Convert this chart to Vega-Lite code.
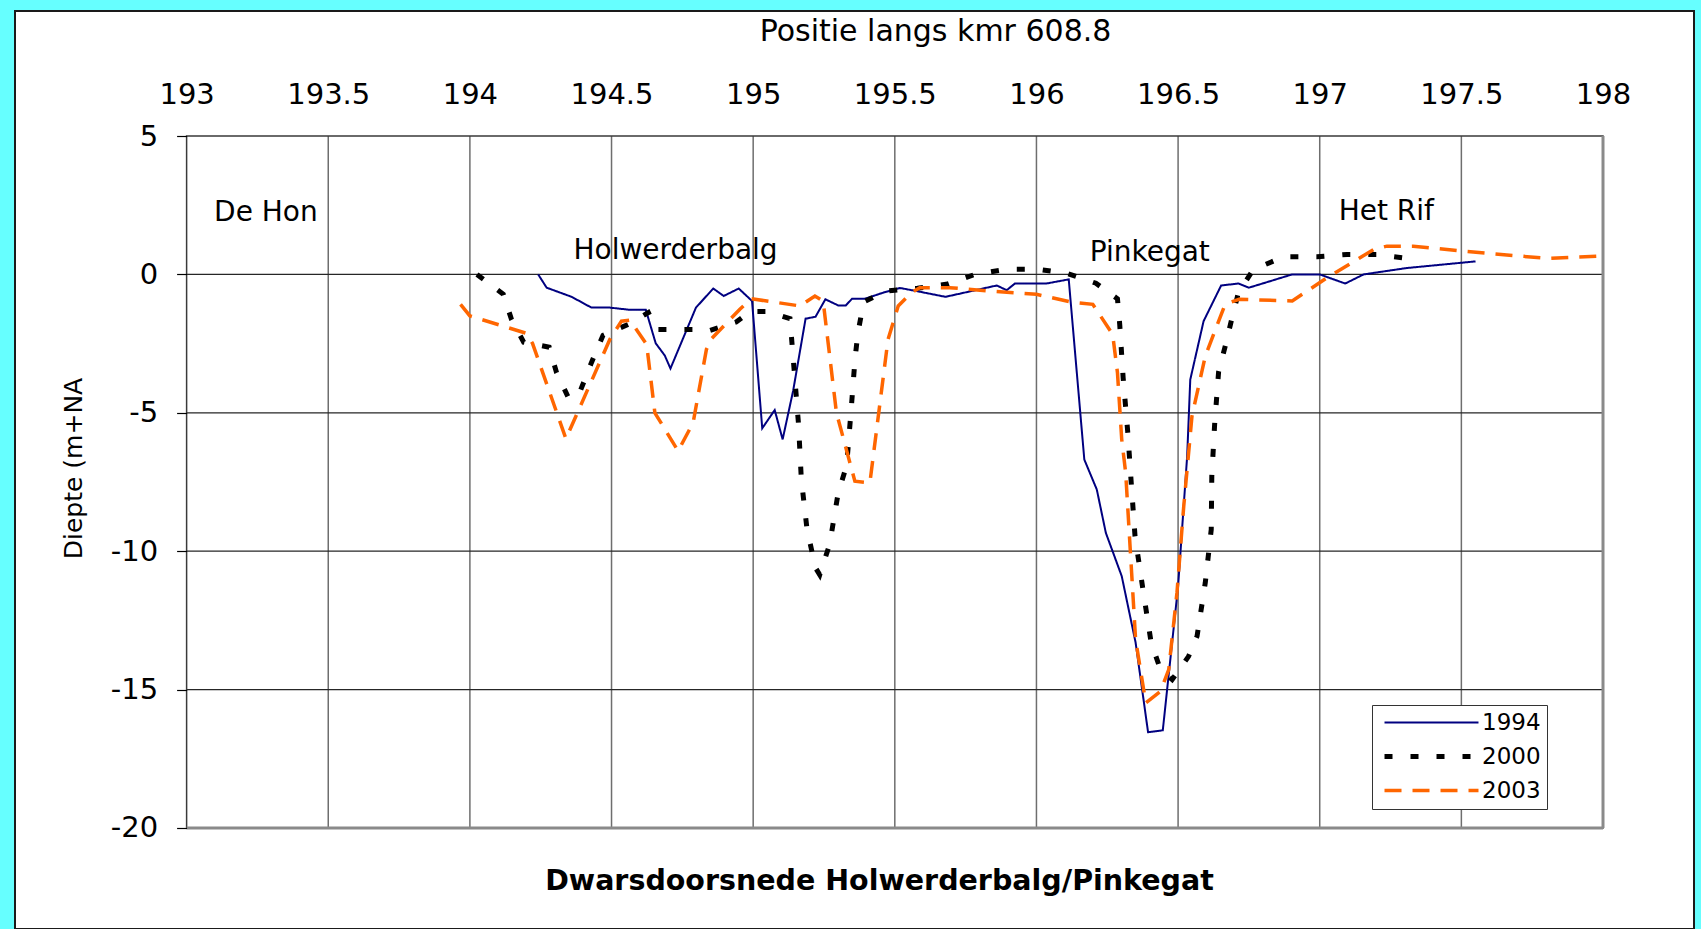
{
  "$schema": "https://vega.github.io/schema/vega-lite/v6.json",
  "width": 1679,
  "height": 918,
  "autosize": {"type": "none"},
  "padding": {"left": 15, "top": 11, "right": 7, "bottom": 0},
  "background": "#66ffff",
  "view": {"fill": "#ffffff", "stroke": "#1a1a1a", "strokeWidth": 2},
  "config": {"font": "DejaVu Sans"},
  "resolve": {"axis": {"x": "independent", "y": "independent"}},
  "title": {
    "text": "Dwarsdoorsnede Holwerderbalg/Pinkegat",
    "orient": "bottom",
    "anchor": "middle",
    "frame": "group",
    "offset": -39,
    "dx": 25,
    "baseline": "alphabetic",
    "font": "DejaVu Sans",
    "fontSize": 28.5,
    "fontWeight": "bold",
    "color": "#000000"
  },
  "datasets": {
    "vgrid": [{"gx": 193.5}, {"gx": 194}, {"gx": 194.5}, {"gx": 195}, {"gx": 195.5}, {"gx": 196}, {"gx": 196.5}, {"gx": 197}, {"gx": 197.5}],
    "hgrid": [{"gy": -15}, {"gy": -10}, {"gy": -5}, {"gy": 0}],
    "labels": [
      {"tx": 193.28, "ty": 2.23, "label": "De Hon"},
      {"tx": 194.726, "ty": 0.86, "label": "Holwerderbalg"},
      {"tx": 196.40, "ty": 0.78, "label": "Pinkegat"},
      {"tx": 197.235, "ty": 2.27, "label": "Het Rif"}
    ],
    "lines": [
      {"year": "1994", "x": 194.241, "y": 0},
      {"year": "1994", "x": 194.271, "y": -0.48},
      {"year": "1994", "x": 194.359, "y": -0.81},
      {"year": "1994", "x": 194.429, "y": -1.2},
      {"year": "1994", "x": 194.494, "y": -1.2},
      {"year": "1994", "x": 194.565, "y": -1.28},
      {"year": "1994", "x": 194.621, "y": -1.28},
      {"year": "1994", "x": 194.656, "y": -2.49},
      {"year": "1994", "x": 194.688, "y": -2.93},
      {"year": "1994", "x": 194.708, "y": -3.4},
      {"year": "1994", "x": 194.798, "y": -1.2},
      {"year": "1994", "x": 194.859, "y": -0.51},
      {"year": "1994", "x": 194.896, "y": -0.78},
      {"year": "1994", "x": 194.949, "y": -0.51},
      {"year": "1994", "x": 194.996, "y": -0.96},
      {"year": "1994", "x": 195.032, "y": -5.56},
      {"year": "1994", "x": 195.076, "y": -4.9},
      {"year": "1994", "x": 195.104, "y": -5.96},
      {"year": "1994", "x": 195.141, "y": -4.21},
      {"year": "1994", "x": 195.185, "y": -1.6},
      {"year": "1994", "x": 195.22, "y": -1.53},
      {"year": "1994", "x": 195.255, "y": -0.9},
      {"year": "1994", "x": 195.3, "y": -1.12},
      {"year": "1994", "x": 195.327, "y": -1.12},
      {"year": "1994", "x": 195.349, "y": -0.88},
      {"year": "1994", "x": 195.394, "y": -0.88},
      {"year": "1994", "x": 195.459, "y": -0.66},
      {"year": "1994", "x": 195.518, "y": -0.49},
      {"year": "1994", "x": 195.565, "y": -0.58},
      {"year": "1994", "x": 195.679, "y": -0.81},
      {"year": "1994", "x": 195.86, "y": -0.4},
      {"year": "1994", "x": 195.895, "y": -0.57},
      {"year": "1994", "x": 195.924, "y": -0.33},
      {"year": "1994", "x": 196.035, "y": -0.33},
      {"year": "1994", "x": 196.114, "y": -0.18},
      {"year": "1994", "x": 196.169, "y": -6.69},
      {"year": "1994", "x": 196.213, "y": -7.77},
      {"year": "1994", "x": 196.245, "y": -9.34},
      {"year": "1994", "x": 196.301, "y": -10.9},
      {"year": "1994", "x": 196.35, "y": -13.3},
      {"year": "1994", "x": 196.394, "y": -16.54},
      {"year": "1994", "x": 196.446, "y": -16.47},
      {"year": "1994", "x": 196.5, "y": -11.27},
      {"year": "1994", "x": 196.532, "y": -6.57},
      {"year": "1994", "x": 196.543, "y": -3.8},
      {"year": "1994", "x": 196.59, "y": -1.69},
      {"year": "1994", "x": 196.652, "y": -0.4},
      {"year": "1994", "x": 196.713, "y": -0.33},
      {"year": "1994", "x": 196.75, "y": -0.48},
      {"year": "1994", "x": 196.903, "y": 0},
      {"year": "1994", "x": 197.0, "y": 0},
      {"year": "1994", "x": 197.09, "y": -0.33},
      {"year": "1994", "x": 197.155, "y": 0},
      {"year": "1994", "x": 197.307, "y": 0.23},
      {"year": "1994", "x": 197.55, "y": 0.47},
      {"year": "2000", "x": 194.025, "y": 0},
      {"year": "2000", "x": 194.118, "y": -0.72},
      {"year": "2000", "x": 194.147, "y": -1.63},
      {"year": "2000", "x": 194.19, "y": -2.45},
      {"year": "2000", "x": 194.28, "y": -2.63},
      {"year": "2000", "x": 194.306, "y": -3.55},
      {"year": "2000", "x": 194.35, "y": -4.5},
      {"year": "2000", "x": 194.39, "y": -4.2},
      {"year": "2000", "x": 194.429, "y": -3.19},
      {"year": "2000", "x": 194.47, "y": -2.2},
      {"year": "2000", "x": 194.56, "y": -1.8},
      {"year": "2000", "x": 194.63, "y": -1.38},
      {"year": "2000", "x": 194.66, "y": -1.99},
      {"year": "2000", "x": 194.79, "y": -1.99},
      {"year": "2000", "x": 194.84, "y": -2.05},
      {"year": "2000", "x": 194.94, "y": -1.72},
      {"year": "2000", "x": 194.99, "y": -1.34},
      {"year": "2000", "x": 195.05, "y": -1.34},
      {"year": "2000", "x": 195.13, "y": -1.6},
      {"year": "2000", "x": 195.16, "y": -5.4},
      {"year": "2000", "x": 195.17, "y": -7.4},
      {"year": "2000", "x": 195.19, "y": -9.2},
      {"year": "2000", "x": 195.22, "y": -10.6},
      {"year": "2000", "x": 195.235, "y": -10.85},
      {"year": "2000", "x": 195.27, "y": -9.75},
      {"year": "2000", "x": 195.3, "y": -7.9},
      {"year": "2000", "x": 195.33, "y": -6.9},
      {"year": "2000", "x": 195.345, "y": -5.0},
      {"year": "2000", "x": 195.36, "y": -3.0},
      {"year": "2000", "x": 195.37, "y": -2.1},
      {"year": "2000", "x": 195.39, "y": -1.0},
      {"year": "2000", "x": 195.47, "y": -0.6},
      {"year": "2000", "x": 195.58, "y": -0.5},
      {"year": "2000", "x": 195.687, "y": -0.35},
      {"year": "2000", "x": 195.783, "y": 0},
      {"year": "2000", "x": 195.898, "y": 0.19},
      {"year": "2000", "x": 196.003, "y": 0.19},
      {"year": "2000", "x": 196.108, "y": 0.04},
      {"year": "2000", "x": 196.21, "y": -0.32},
      {"year": "2000", "x": 196.286, "y": -0.88},
      {"year": "2000", "x": 196.294, "y": -1.81},
      {"year": "2000", "x": 196.306, "y": -3.73},
      {"year": "2000", "x": 196.322, "y": -5.66},
      {"year": "2000", "x": 196.335, "y": -7.59},
      {"year": "2000", "x": 196.348, "y": -9.46},
      {"year": "2000", "x": 196.376, "y": -11.39},
      {"year": "2000", "x": 196.405, "y": -13.31},
      {"year": "2000", "x": 196.438, "y": -14.28},
      {"year": "2000", "x": 196.479, "y": -14.64},
      {"year": "2000", "x": 196.537, "y": -13.8},
      {"year": "2000", "x": 196.567, "y": -13.07},
      {"year": "2000", "x": 196.596, "y": -11.14},
      {"year": "2000", "x": 196.617, "y": -9.22},
      {"year": "2000", "x": 196.619, "y": -7.29},
      {"year": "2000", "x": 196.629, "y": -5.42},
      {"year": "2000", "x": 196.643, "y": -3.52},
      {"year": "2000", "x": 196.668, "y": -2.53},
      {"year": "2000", "x": 196.689, "y": -1.63},
      {"year": "2000", "x": 196.713, "y": -0.66},
      {"year": "2000", "x": 196.766, "y": 0.18},
      {"year": "2000", "x": 196.874, "y": 0.64},
      {"year": "2000", "x": 196.99, "y": 0.64},
      {"year": "2000", "x": 197.096, "y": 0.72},
      {"year": "2000", "x": 197.2, "y": 0.72},
      {"year": "2000", "x": 197.318, "y": 0.57},
      {"year": "2003", "x": 193.967, "y": -1.08},
      {"year": "2003", "x": 194.0, "y": -1.5},
      {"year": "2003", "x": 194.2, "y": -2.13},
      {"year": "2003", "x": 194.221, "y": -2.49},
      {"year": "2003", "x": 194.339, "y": -5.94},
      {"year": "2003", "x": 194.494, "y": -2.35},
      {"year": "2003", "x": 194.535, "y": -1.69},
      {"year": "2003", "x": 194.565, "y": -1.65},
      {"year": "2003", "x": 194.624, "y": -2.53},
      {"year": "2003", "x": 194.653, "y": -5.0},
      {"year": "2003", "x": 194.735, "y": -6.38},
      {"year": "2003", "x": 194.788, "y": -5.36},
      {"year": "2003", "x": 194.835, "y": -2.71},
      {"year": "2003", "x": 194.853, "y": -2.32},
      {"year": "2003", "x": 194.953, "y": -1.26},
      {"year": "2003", "x": 194.994, "y": -0.88},
      {"year": "2003", "x": 195.165, "y": -1.14},
      {"year": "2003", "x": 195.218, "y": -0.78},
      {"year": "2003", "x": 195.247, "y": -0.96},
      {"year": "2003", "x": 195.294, "y": -5.0},
      {"year": "2003", "x": 195.359, "y": -7.47},
      {"year": "2003", "x": 195.412, "y": -7.53},
      {"year": "2003", "x": 195.476, "y": -2.35},
      {"year": "2003", "x": 195.512, "y": -1.14},
      {"year": "2003", "x": 195.559, "y": -0.66},
      {"year": "2003", "x": 195.588, "y": -0.48},
      {"year": "2003", "x": 195.694, "y": -0.48},
      {"year": "2003", "x": 195.836, "y": -0.6},
      {"year": "2003", "x": 196.0, "y": -0.72},
      {"year": "2003", "x": 196.123, "y": -1.0},
      {"year": "2003", "x": 196.199, "y": -1.08},
      {"year": "2003", "x": 196.269, "y": -2.17},
      {"year": "2003", "x": 196.286, "y": -3.55},
      {"year": "2003", "x": 196.301, "y": -5.96},
      {"year": "2003", "x": 196.315, "y": -7.17},
      {"year": "2003", "x": 196.336, "y": -10.78},
      {"year": "2003", "x": 196.35, "y": -13.19},
      {"year": "2003", "x": 196.386, "y": -15.48},
      {"year": "2003", "x": 196.438, "y": -15.06},
      {"year": "2003", "x": 196.467, "y": -14.28},
      {"year": "2003", "x": 196.496, "y": -11.5},
      {"year": "2003", "x": 196.52, "y": -8.37},
      {"year": "2003", "x": 196.549, "y": -5.12},
      {"year": "2003", "x": 196.596, "y": -2.95},
      {"year": "2003", "x": 196.666, "y": -1.08},
      {"year": "2003", "x": 196.715, "y": -0.9},
      {"year": "2003", "x": 196.903, "y": -0.96},
      {"year": "2003", "x": 197.026, "y": -0.12},
      {"year": "2003", "x": 197.19, "y": 0.9},
      {"year": "2003", "x": 197.237, "y": 1.02},
      {"year": "2003", "x": 197.33, "y": 1.02},
      {"year": "2003", "x": 197.506, "y": 0.84},
      {"year": "2003", "x": 197.8, "y": 0.58},
      {"year": "2003", "x": 197.98, "y": 0.66}
    ]
  },
  "layer": [
    {
      "data": {"name": "vgrid"},
      "mark": {"type": "rule", "color": "#6e6e6e", "strokeWidth": 1.5},
      "encoding": {
        "x": {"field": "gx", "type": "quantitative", "scale": {"domain": [192.3942, 198.3212], "nice": false, "zero": false}, "axis": null},
        "y": {"datum": -20, "type": "quantitative", "scale": {"domain": [-23.649, 9.516], "nice": false, "zero": false}, "axis": null},
        "y2": {"datum": 5}
      }
    },
    {
      "data": {"name": "hgrid"},
      "mark": {"type": "rule", "color": "#262626", "strokeWidth": 1.3},
      "encoding": {
        "y": {"field": "gy", "type": "quantitative", "scale": {"domain": [-23.649, 9.516], "nice": false, "zero": false}, "axis": null},
        "x": {"datum": 193, "type": "quantitative", "scale": {"domain": [192.3942, 198.3212], "nice": false, "zero": false}, "axis": null},
        "x2": {"datum": 198}
      }
    },
    {
      "data": {"values": [{}]},
      "mark": {"type": "rect", "fill": null, "stroke": "#3a3a3a", "strokeWidth": 1.5},
      "encoding": {
        "x": {"datum": 193, "type": "quantitative", "scale": {"domain": [192.3942, 198.3212], "nice": false, "zero": false}, "axis": null},
        "x2": {"datum": 198},
        "y": {"datum": -20, "type": "quantitative", "scale": {"domain": [-23.649, 9.516], "nice": false, "zero": false}, "axis": null},
        "y2": {"datum": 5}
      }
    },
    {
      "data": {"values": [{}]},
      "mark": {"type": "rule", "color": "#8a8a8a", "strokeWidth": 3},
      "encoding": {
        "x": {"datum": 198, "type": "quantitative", "scale": {"domain": [192.3942, 198.3212], "nice": false, "zero": false}, "axis": null},
        "y": {"datum": -20, "type": "quantitative", "scale": {"domain": [-23.649, 9.516], "nice": false, "zero": false}, "axis": null},
        "y2": {"datum": 5}
      }
    },
    {
      "data": {"values": [{}]},
      "mark": {"type": "rule", "color": "#8a8a8a", "strokeWidth": 3},
      "encoding": {
        "x": {"datum": 193, "type": "quantitative", "scale": {"domain": [192.3942, 198.3212], "nice": false, "zero": false}, "axis": null},
        "x2": {"datum": 198},
        "y": {"datum": -20, "type": "quantitative", "scale": {"domain": [-23.649, 9.516], "nice": false, "zero": false}, "axis": null}
      }
    },
    {
      "data": {"name": "labels"},
      "mark": {"type": "text", "font": "DejaVu Sans", "fontSize": 28, "align": "center", "baseline": "middle", "color": "#000000"},
      "encoding": {
        "x": {"field": "tx", "type": "quantitative", "scale": {"domain": [192.3942, 198.3212], "nice": false, "zero": false}, "axis": null},
        "y": {"field": "ty", "type": "quantitative", "scale": {"domain": [-23.649, 9.516], "nice": false, "zero": false}, "axis": null},
        "text": {"field": "label"}
      }
    },
    {
      "data": {"name": "lines"},
      "mark": {"type": "line", "strokeCap": "butt", "strokeJoin": "miter"},
      "encoding": {
        "x": {
          "field": "x", "type": "quantitative",
          "scale": {"domain": [192.3942, 198.3212], "nice": false, "zero": false},
          "axis": {
            "orient": "top", "offset": -125, "zindex": 2,
            "values": [193, 193.5, 194, 194.5, 195, 195.5, 196, 196.5, 197, 197.5, 198],
            "labelExpr": "'' + datum.value",
            "domain": false, "ticks": false, "grid": false,
            "labelFont": "DejaVu Sans", "labelFontSize": 29, "labelColor": "#000000",
            "labelPadding": 27, "labelFlush": false, "labelOverlap": false,
            "title": "Positie langs kmr 608.8",
            "titleFont": "DejaVu Sans", "titleFontSize": 30, "titleFontWeight": "normal", "titleColor": "#000000",
            "titleX": 920, "titleY": -96, "titleAlign": "center", "titleBaseline": "alphabetic"
          }
        },
        "y": {
          "field": "y", "type": "quantitative",
          "scale": {"domain": [-23.649, 9.516], "nice": false, "zero": false},
          "axis": {
            "orient": "left", "offset": -171.6, "zindex": 2,
            "values": [-20, -15, -10, -5, 0, 5],
            "labelExpr": "'' + datum.value",
            "domain": false, "ticks": true, "tickSize": 10, "tickColor": "#000000", "tickWidth": 1.2, "grid": false,
            "labelFont": "DejaVu Sans", "labelFontSize": 29, "labelColor": "#000000",
            "labelPadding": 19, "labelFlush": false, "labelOverlap": false,
            "title": "Diepte (m+NA",
            "titleFont": "DejaVu Sans", "titleFontSize": 25, "titleFontWeight": "normal", "titleColor": "#000000",
            "titleAngle": -90, "titleX": -105, "titleY": 457, "titleAlign": "center", "titleBaseline": "alphabetic"
          }
        },
        "color": {
          "field": "year", "type": "nominal",
          "scale": {"domain": ["1994", "2000", "2003"], "range": ["#000080", "#000000", "#ff6600"]},
          "legend": {
            "title": null, "orient": "none", "legendX": 1357, "legendY": 694,
            "symbolType": "M-4,0H4", "symbolSize": 552,
            "labelFont": "DejaVu Sans", "labelFontSize": 23, "labelColor": "#000000",
            "padding": 6, "rowPadding": 10, "labelOffset": 39, "symbolOffset": 42,
            "strokeColor": "#333333", "fillColor": "#ffffff",
            "encode": {"symbols": {"update": {"strokeWidth": {"signal": "datum.value === '2000' ? 5 : datum.value === '2003' ? 3.5 : 2"}}}}
          }
        },
        "strokeDash": {
          "field": "year", "type": "nominal",
          "scale": {"domain": ["1994", "2000", "2003"], "range": [[1, 0], [8, 18], [17, 11]]},
          "legend": {
            "title": null, "orient": "none", "legendX": 1357, "legendY": 694,
            "symbolType": "M-4,0H4", "symbolSize": 552,
            "labelFont": "DejaVu Sans", "labelFontSize": 23, "labelColor": "#000000",
            "padding": 6, "rowPadding": 10, "labelOffset": 39, "symbolOffset": 42,
            "strokeColor": "#333333", "fillColor": "#ffffff",
            "encode": {"symbols": {"update": {"strokeWidth": {"signal": "datum.value === '2000' ? 5 : datum.value === '2003' ? 3.5 : 2"}}}}
          }
        },
        "strokeWidth": {
          "field": "year", "type": "ordinal",
          "scale": {"type": "point", "domain": ["1994", "2003", "2000"], "range": [2, 5], "padding": 0},
          "legend": null
        }
      }
    }
  ]
}
